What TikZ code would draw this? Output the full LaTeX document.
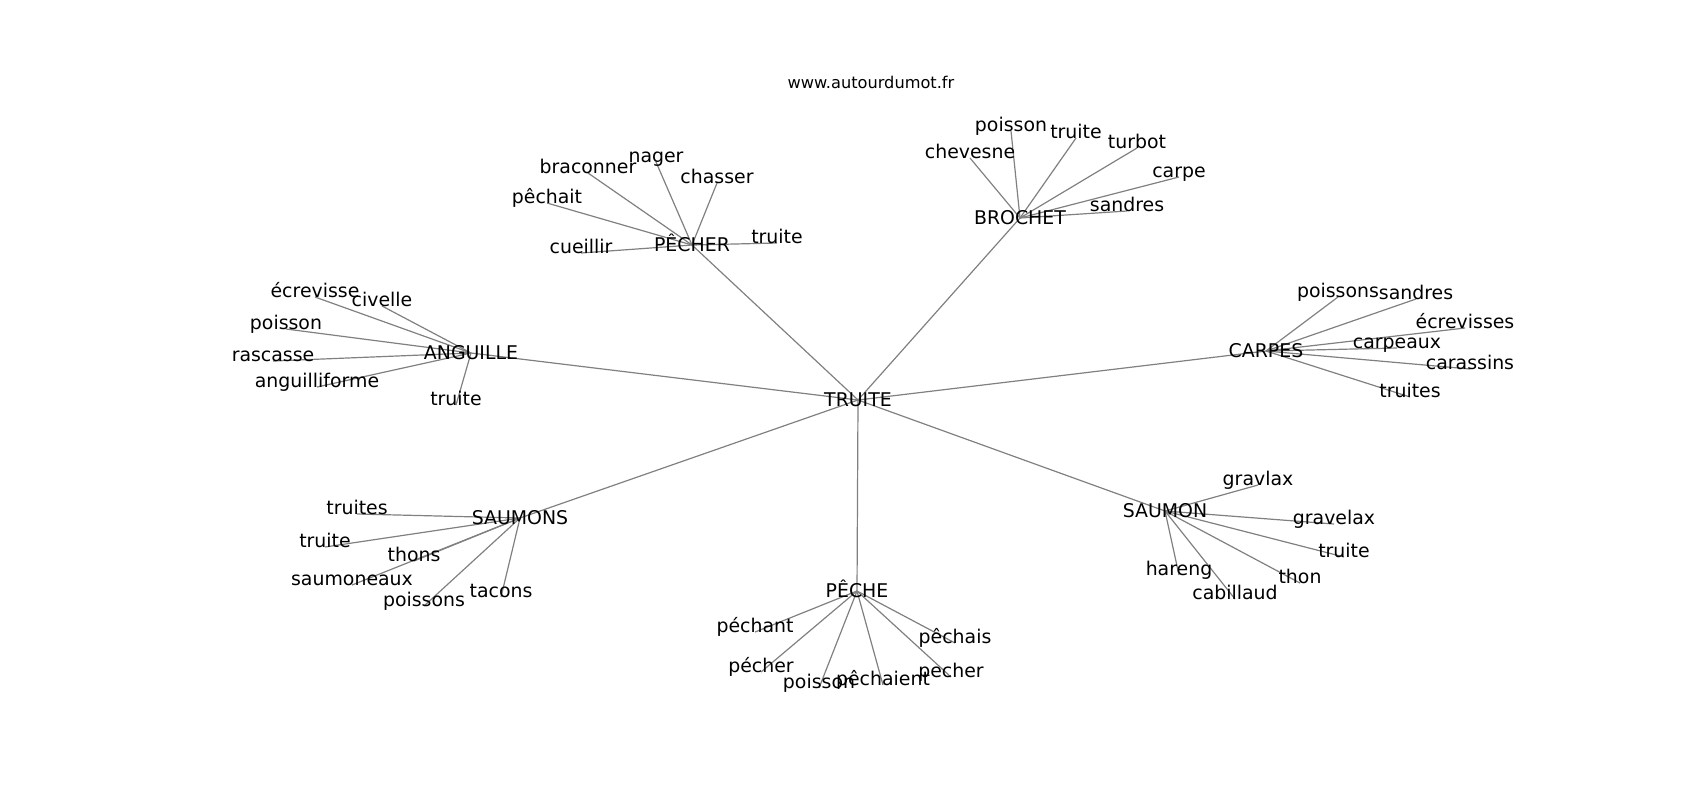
\documentclass[tikz,border=0pt]{standalone}
\usepackage{fontspec}
\setmainfont{DejaVu Sans}
\usepackage{tikz}
\usetikzlibrary{positioning,backgrounds}

\tikzset{
    word/.style={anchor=base, inner sep=0pt, font=\fontsize{9.45}{11}\selectfont},
    hub/.style={anchor=center, inner sep=0pt, text height=6.9pt, text depth=0pt, font=\fontsize{9.45}{11}\selectfont},
    link/.style={draw=gray, line width=0.6pt}
}

\begin{document}
\begin{tikzpicture}[x=0.5pt, y=-0.5pt]
    \useasboundingbox (0,0) rectangle (1700,800);
    \node[word, font=\fontsize{8.1}{10}\selectfont] (site) at (871,88) {www.autourdumot.fr};

    % centre and hubs
    \node[hub] (truite) at (858,400) {TRUITE};
    \node[hub] (pecher) at (692,245) {PÊCHER};
    \node[hub] (brochet) at (1020,218) {BROCHET};
    \node[hub] (anguille) at (471,353) {ANGUILLE};
    \node[hub] (carpes) at (1266,351) {CARPES};
    \node[hub] (saumons) at (520,518) {SAUMONS};
    \node[hub] (peche) at (857,591) {PÊCHE};
    \node[hub] (saumon) at (1165,511) {SAUMON};

    % PÊCHER
    \node[word] (pecher-1) at (656,162) {nager};
    \node[word] (pecher-2) at (588,173) {braconner};
    \node[word] (pecher-3) at (717,183) {chasser};
    \node[word] (pecher-4) at (547,203) {pêchait};
    \node[word] (pecher-5) at (581,253) {cueillir};
    \node[word] (pecher-6) at (777,243) {truite};

    % BROCHET
    \node[word] (brochet-1) at (970,158) {chevesne};
    \node[word] (brochet-2) at (1011,131) {poisson};
    \node[word] (brochet-3) at (1076,138) {truite};
    \node[word] (brochet-4) at (1137,148) {turbot};
    \node[word] (brochet-5) at (1179,177) {carpe};
    \node[word] (brochet-6) at (1127,211) {sandres};

    % ANGUILLE
    \node[word] (anguille-1) at (315,297) {écrevisse};
    \node[word] (anguille-2) at (382,306) {civelle};
    \node[word] (anguille-3) at (286,329) {poisson};
    \node[word] (anguille-4) at (273,361) {rascasse};
    \node[word] (anguille-5) at (317,387) {anguilliforme};
    \node[word] (anguille-6) at (456,405) {truite};

    % CARPES
    \node[word] (carpes-1) at (1338,297) {poissons};
    \node[word] (carpes-2) at (1416,299) {sandres};
    \node[word] (carpes-3) at (1465,328) {écrevisses};
    \node[word] (carpes-4) at (1397,348) {carpeaux};
    \node[word] (carpes-5) at (1470,369) {carassins};
    \node[word] (carpes-6) at (1410,397) {truites};

    % SAUMONS
    \node[word] (saumons-1) at (357,514) {truites};
    \node[word] (saumons-2) at (325,547) {truite};
    \node[word] (saumons-3) at (414,561) {thons};
    \node[word] (saumons-4) at (352,585) {saumoneaux};
    \node[word] (saumons-5) at (424,606) {poissons};
    \node[word] (saumons-6) at (501,597) {tacons};

    % PÊCHE
    \node[word] (peche-1) at (755,632) {péchant};
    \node[word] (peche-2) at (761,672) {pécher};
    \node[word] (peche-3) at (819,688) {poisson};
    \node[word] (peche-4) at (883,685) {pêchaient};
    \node[word] (peche-5) at (955,643) {pêchais};
    \node[word] (peche-6) at (951,677) {pecher};

    % SAUMON
    \node[word] (saumon-1) at (1258,485) {gravlax};
    \node[word] (saumon-2) at (1334,524) {gravelax};
    \node[word] (saumon-3) at (1344,557) {truite};
    \node[word] (saumon-4) at (1300,583) {thon};
    \node[word] (saumon-5) at (1179,575) {hareng};
    \node[word] (saumon-6) at (1235,599) {cabillaud};

    \begin{pgfonlayer}{background}
        \foreach \h in {pecher,brochet,anguille,carpes,saumons,peche,saumon} {
            \draw[link] (truite.center) -- (\h.center);
            \foreach \i in {1,...,6}
                \draw[link] (\h.center) -- (\h-\i.base);
        }
    \end{pgfonlayer}
\end{tikzpicture}
\end{document}
